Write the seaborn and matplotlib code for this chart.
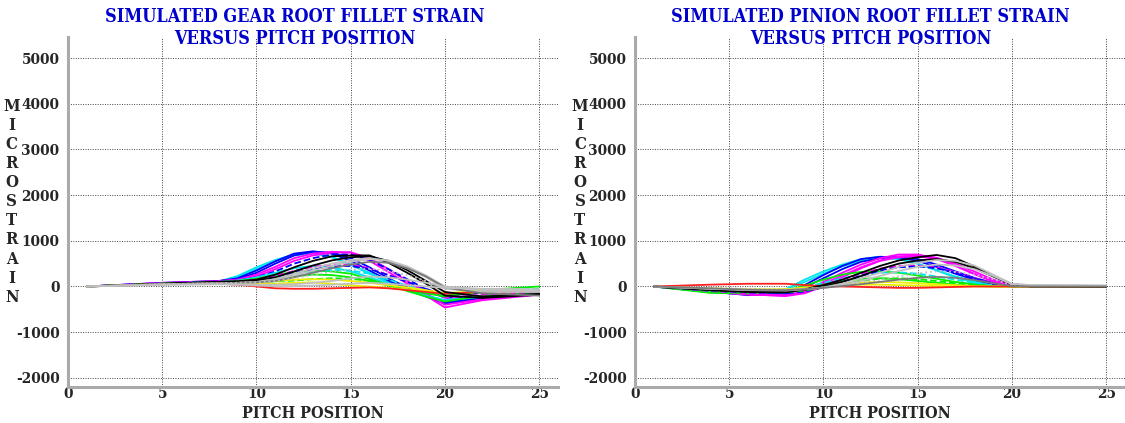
import matplotlib
matplotlib.use("Agg")
import matplotlib.pyplot as plt
import seaborn as sns

# pitch positions where the strain was sampled
gear_x = [1, 5, 8, 9, 10, 11, 12, 13, 14, 15, 16, 17, 18, 19, 20, 22, 25]
pinion_x = [1, 4, 6, 8, 9, 10, 11, 12, 13, 14, 15, 16, 17, 18, 19, 20, 21, 25]

# gear root fillet strain, one list per simulated run
gear_cyan_a = [0, 70, 110, 230, 420, 580, 700, 740, 650, 480, 300, 100, -50, -200, -300, -200, -150]
gear_cyan_b = [0, 60, 100, 200, 380, 560, 680, 720, 640, 470, 280, 80, -80, -220, -330, -220, -160]
gear_blue_a = [0, 80, 120, 180, 350, 550, 720, 770, 720, 560, 350, 130, -50, -220, -380, -250, -180]
gear_blue_b = [0, 75, 115, 160, 300, 500, 680, 760, 740, 620, 420, 180, -20, -200, -350, -240, -170]
gear_mag_a = [0, 80, 120, 150, 260, 430, 620, 720, 760, 740, 560, 320, 60, -200, -460, -300, -180]
gear_mag_b = [0, 70, 110, 140, 220, 380, 560, 680, 740, 750, 620, 380, 120, -150, -400, -280, -170]
gear_blue_c = [0, 70, 110, 130, 200, 330, 500, 620, 700, 700, 580, 380, 160, -60, -250, -200, -150]
gear_black_a = [0, 60, 100, 110, 150, 260, 420, 560, 660, 680, 680, 520, 300, 60, -200, -250, -180]
gear_black_b = [0, 60, 100, 110, 130, 200, 330, 460, 570, 640, 660, 560, 360, 120, -120, -220, -160]
gear_cyan_c = [0, 60, 100, 130, 200, 300, 400, 450, 420, 330, 200, 60, -80, -200, -300, -230, -150]
gear_green_a = [0, 60, 100, 120, 170, 250, 320, 350, 330, 280, 160, 30, -100, -220, -330, -200, -120]
gear_mag_c = [0, 60, 100, 110, 150, 230, 340, 430, 480, 480, 400, 250, 100, -80, -250, -180, -120]
gear_blue_d = [0, 60, 100, 100, 130, 200, 300, 380, 440, 450, 380, 250, 100, -50, -200, -130, -80]
gear_cyan_d = [0, 60, 100, 100, 120, 170, 250, 320, 360, 350, 280, 150, 20, -100, -180, -100, -50]
gear_green_b = [0, 60, 90, 100, 110, 150, 220, 260, 250, 200, 120, 20, -80, -150, -220, -80, 0]
gear_green_c = [0, 60, 90, 95, 100, 110, 130, 160, 180, 170, 120, 40, -50, -130, -200, -120, -100]
gear_yellow_a = [0, 60, 90, 95, 100, 120, 150, 160, 150, 120, 80, 30, -20, -80, -150, -100, -80]
gear_yellow_b = [0, 50, 80, 80, 70, 60, 80, 90, 60, 20, 0, -30, -60, -100, -150, -100, -80]
gear_red_a = [0, 50, 60, 40, 0, -40, -50, -50, -40, -30, -20, -40, -80, -120, -160, -120, -100]
gear_gray_a = [0, 50, 70, 80, 100, 160, 280, 400, 500, 580, 620, 560, 400, 200, -50, -120, -120]
gear_gray_b = [0, 50, 70, 80, 90, 140, 240, 350, 450, 540, 600, 570, 440, 240, 0, -80, -100]
gear_gray_c = [0, 50, 70, 80, 90, 120, 200, 300, 400, 480, 540, 520, 400, 220, -20, -150, -200]
gear_gray_d = [0, 50, 70, 80, 90, 120, 180, 250, 320, 370, 390, 340, 250, 120, -20, -60, -80]
gear_gray_e = [0, 40, 50, 50, 40, 40, 50, 80, 120, 180, 220, 200, 150, 80, -10, -60, -100]
gear_gray_f = [0, 40, 50, 40, 20, 10, 10, 20, 40, 60, 80, 60, 30, 0, -30, -50, -60]

# pinion root fillet strain, one list per simulated run
pin_cyan_a = [0, -120, -150, -60, 150, 330, 480, 600, 650, 620, 500, 350, 200, 90, 30, 0, 0, 0]
pin_cyan_b = [0, -130, -170, -80, 100, 280, 440, 560, 620, 600, 500, 360, 220, 110, 40, 0, 0, 0]
pin_blue_a = [0, -100, -180, -150, 30, 250, 450, 600, 650, 640, 560, 430, 280, 150, 50, 0, 0, 0]
pin_blue_b = [0, -110, -190, -170, -20, 180, 380, 540, 620, 640, 600, 480, 330, 190, 80, 10, 0, 0]
pin_mag_a = [0, -120, -180, -200, -100, 100, 300, 480, 620, 700, 700, 620, 460, 280, 120, 20, 0, 0]
pin_mag_b = [0, -100, -160, -190, -120, 60, 240, 420, 570, 660, 680, 630, 500, 330, 150, 30, 0, 0]
pin_mag_c = [0, -110, -170, -210, -150, 0, 200, 400, 560, 640, 660, 600, 450, 270, 110, 10, 0, 0]
pin_green_a = [0, -140, -150, -100, 20, 150, 260, 320, 330, 300, 240, 170, 100, 50, 20, 0, 0, 0]
pin_green_b = [0, -120, -140, -110, -40, 40, 120, 170, 180, 160, 120, 80, 40, 10, 0, 0, 0, 0]
pin_black_a = [0, -80, -120, -130, -60, 30, 150, 300, 450, 570, 640, 690, 620, 440, 230, 50, 10, 0]
pin_black_b = [0, -70, -110, -120, -70, 0, 100, 230, 380, 500, 570, 600, 540, 400, 220, 40, 0, 0]
pin_cyan_c = [0, -90, -140, -120, -20, 80, 180, 260, 300, 310, 280, 220, 150, 80, 30, 0, 0, 0]
pin_mag_d = [0, -100, -150, -170, -100, 20, 150, 280, 390, 450, 460, 420, 320, 180, 70, 10, 0, 0]
pin_blue_c = [0, -90, -130, -150, -110, -20, 100, 230, 350, 420, 440, 400, 300, 170, 60, 0, 0, 0]
pin_green_c = [0, -80, -120, -130, -90, -20, 60, 130, 170, 180, 160, 120, 70, 30, 10, 0, 0, 0]
pin_yellow_a = [0, -60, -80, -60, -20, 20, 60, 90, 100, 90, 70, 50, 30, 10, 0, 0, 0, 0]
pin_yellow_b = [0, -40, -60, -60, -40, -10, 20, 40, 40, 30, 20, 10, 0, 0, 0, 0, 0, 0]
pin_red_a = [0, 40, 60, 60, 30, 10, 0, -10, -20, -30, -30, -20, -10, 0, 0, 0, 0, 0]
pin_gray_a = [0, -50, -80, -90, -60, -20, 60, 180, 300, 430, 520, 580, 560, 460, 260, 60, 30, 20]
pin_gray_b = [0, -50, -70, -80, -60, -30, 30, 120, 230, 340, 430, 480, 460, 380, 230, 50, 30, 20]
pin_gray_c = [0, -30, -50, -60, -50, -20, 20, 80, 150, 220, 290, 330, 320, 260, 160, 30, 20, 20]
pin_gray_d = [0, -40, -70, -80, -60, -30, 10, 50, 100, 150, 190, 210, 190, 140, 70, 10, 0, 0]

CY, BL, MG, GR, YE, RD, BK = "#00e5ee", "#0000ff", "#ff00ff", "#00ee00", "#eeee00", "#ff2020", "#000000"
LG, DG = "#c0c0c0", "#7a7a7a"

gear_runs = [
    (gear_cyan_a, CY, "-"), (gear_cyan_b, CY, "-"), (gear_blue_a, BL, "-"), (gear_blue_b, BL, "-"),
    (gear_mag_a, MG, "-"), (gear_mag_b, MG, "-"), (gear_blue_c, BL, "--"), (gear_cyan_c, CY, "-"),
    (gear_green_a, GR, "-"), (gear_mag_c, MG, "--"), (gear_blue_d, BL, "--"), (gear_cyan_d, CY, "--"),
    (gear_green_b, GR, "-"), (gear_green_c, GR, "--"), (gear_yellow_a, YE, "-"), (gear_yellow_b, YE, "-"),
    (gear_red_a, RD, "-"), (gear_black_a, BK, "-"), (gear_black_b, BK, "-"),
    (gear_gray_a, LG, "-"), (gear_gray_b, LG, "-"), (gear_gray_c, DG, "-"), (gear_gray_d, LG, ":"),
    (gear_gray_e, LG, "-"), (gear_gray_f, LG, "-"),
]
pinion_runs = [
    (pin_cyan_a, CY, "-"), (pin_cyan_b, CY, "-"), (pin_blue_a, BL, "-"), (pin_blue_b, BL, "-"),
    (pin_mag_a, MG, "-"), (pin_mag_b, MG, "-"), (pin_mag_c, MG, "-"), (pin_green_a, GR, "-"),
    (pin_green_b, GR, "-"), (pin_cyan_c, CY, "--"), (pin_mag_d, MG, "--"), (pin_blue_c, BL, "--"),
    (pin_green_c, GR, "--"), (pin_yellow_a, YE, "-"), (pin_yellow_b, YE, "-"), (pin_red_a, RD, "-"),
    (pin_black_a, BK, "-"), (pin_black_b, BK, "-"),
    (pin_gray_a, LG, "-"), (pin_gray_b, LG, "-"), (pin_gray_c, LG, ":"), (pin_gray_d, DG, "-"),
]

y_ticks = [-2000, -1000, 0, 1000, 2000, 3000, 4000, 5000]
x_ticks = [0, 5, 10, 15, 20, 25]

sns.set_style("white")
plt.rcParams["font.family"] = ["DejaVu Serif", "Liberation Serif"]
plt.rcParams["font.stretch"] = "condensed"
plt.rcParams["font.weight"] = "bold"

fig = plt.figure(figsize=(11.25, 4.23), dpi=100)

panels = [
    (0.0604, gear_x, gear_runs, ["SIMULATED GEAR ROOT FILLET STRAIN", "VERSUS PITCH POSITION"], 0.262, 0.0105),
    (0.5644, pinion_x, pinion_runs, ["SIMULATED PINION ROOT FILLET STRAIN", "VERSUS PITCH POSITION"], 0.774, 0.5155),
]

for left, xs, runs, title, tx, lx in panels:
    ax = fig.add_axes([left, 0.0851, 0.4356, 0.8274])
    for vals, col, ls in runs:
        sns.lineplot(x=xs, y=vals, color=col, linestyle=ls, linewidth=1.3, ax=ax)
    ax.set_xlim(0, 26)
    ax.set_ylim(-2200, 5460)
    ax.set_xticks(x_ticks)
    ax.set_yticks(y_ticks)
    ax.set_xticklabels([str(t) for t in x_ticks], fontsize=11, fontweight="bold")
    ax.set_yticklabels([str(t) for t in y_ticks], fontsize=11, fontweight="bold")
    ax.tick_params(axis="x", length=0, pad=0)
    ax.tick_params(axis="y", length=4, width=1, color="#444444", pad=2)
    ax.grid(True, color="#444444", linestyle=(0, (1, 1.5)), linewidth=0.7)
    ax.set_axisbelow(True)
    for side in ["top", "right"]:
        ax.spines[side].set_visible(False)
    for side in ["left", "bottom"]:
        ax.spines[side].set_color("#aaaaaa")
        ax.spines[side].set_linewidth(2.2)
    ax.set_xlabel("")
    ax.set_ylabel("")
    fig.text(left + 0.2178, 1 - 413 / 423, "PITCH POSITION", ha="center", va="center",
             fontsize=11.5, fontweight="bold")
    fig.text(tx, 1 - 17 / 423, title[0], ha="center", va="center", color="#0000cc",
             fontsize=13, fontweight="bold")
    fig.text(tx, 1 - 39 / 423, title[1], ha="center", va="center", color="#0000cc",
             fontsize=13, fontweight="bold")
    fig.text(lx, 0.523, "\n".join("MICROSTRAIN"), ha="center", va="center",
             fontsize=12, fontweight="bold", linespacing=1.16)

fig.savefig("out.png", dpi=100)
